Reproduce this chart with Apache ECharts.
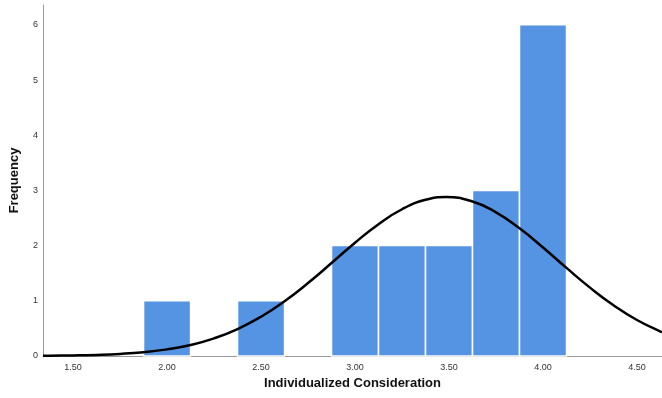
<!DOCTYPE html>
<html>
<head>
<meta charset="utf-8">
<script src="https://cdn.jsdelivr.net/npm/echarts@6/dist/echarts.min.js"></script>
<style>
  html, body { margin: 0; padding: 0; background: #fff; }
  #chart { width: 662px; height: 398px; }
</style>
</head>
<body>
<div id="chart"></div>
<script>
// Histogram bins: centre of each bin and its count
const binCenters = [2.00, 2.50, 3.00, 3.25, 3.50, 3.75, 4.00];
const binCounts  = [1, 1, 2, 2, 2, 3, 6];
const binWidth = 0.25;

// Fitted normal curve, sampled along the x axis
const curveX = [1.34, 1.375, 1.5, 1.625, 1.75, 1.875, 2.0, 2.125, 2.25, 2.375, 2.5, 2.625, 2.75, 2.875,
                3.0, 3.125, 3.25, 3.375, 3.485, 3.625, 3.75, 3.875, 4.0, 4.125, 4.25, 4.375, 4.5, 4.625, 4.633];
const curveY = [0.004, 0.005, 0.010, 0.020, 0.038, 0.069, 0.120, 0.200, 0.320, 0.488, 0.712, 0.992, 1.322, 1.684,
                2.053, 2.389, 2.659, 2.830, 2.880, 2.799, 2.603, 2.313, 1.966, 1.596, 1.239, 0.919, 0.652, 0.443, 0.435];

const xTicks = [1.5, 2.0, 2.5, 3.0, 3.5, 4.0, 4.5];
const yTicks = [0, 1, 2, 3, 4, 5, 6];

const chart = echarts.init(document.getElementById('chart'));

const barData = binCenters.map((c, i) => [c - binWidth / 2, c + binWidth / 2, binCounts[i]]);
const curveData = curveX.map((x, i) => [x, curveY[i]]);

chart.setOption({
  animation: false,
  grid: { left: 43, right: 0, top: 5, bottom: 42, outerBoundsMode: 'none', containLabel: false },
  xAxis: {
    type: 'value',
    min: 1.34,
    max: 4.633,
    name: 'Individualized Consideration',
    nameLocation: 'middle',
    nameGap: 20,
    nameTextStyle: { fontFamily: 'Liberation Sans', fontWeight: 'bold', fontSize: 13, color: '#111' },
    axisLine: { show: true, lineStyle: { color: '#999', width: 1 } },
    axisTick: { show: false },
    splitLine: { show: false },
    axisLabel: {
      customValues: xTicks,
      formatter: v => v.toFixed(2),
      fontFamily: 'Liberation Sans', fontSize: 9, color: '#333', margin: 7
    }
  },
  yAxis: {
    type: 'value',
    min: 0,
    max: 6.36,
    name: 'Frequency',
    nameLocation: 'middle',
    nameGap: 22,
    nameRotate: 90,
    nameTextStyle: { fontFamily: 'Liberation Sans', fontWeight: 'bold', fontSize: 13, color: '#111' },
    axisLine: { show: true, lineStyle: { color: '#999', width: 1 } },
    axisTick: { show: false },
    splitLine: { show: false },
    axisLabel: {
      customValues: yTicks,
      fontFamily: 'Liberation Sans', fontSize: 9, color: '#333', margin: 5
    }
  },
  series: [
    {
      type: 'custom',
      data: barData,
      encode: { x: [0, 1], y: 2 },
      renderItem: function (params, api) {
        const p0 = api.coord([api.value(0), api.value(2)]);
        const p1 = api.coord([api.value(1), 0]);
        return {
          type: 'rect',
          shape: { x: p0[0], y: p0[1], width: p1[0] - p0[0], height: p1[1] - p0[1] },
          style: { fill: '#5593e3', stroke: '#ffffff', lineWidth: 1.5 }
        };
      },
      z: 2
    },
    {
      type: 'line',
      data: curveData,
      smooth: true,
      showSymbol: false,
      lineStyle: { color: '#000', width: 2.5 },
      z: 3
    }
  ]
});
</script>
</body>
</html>
